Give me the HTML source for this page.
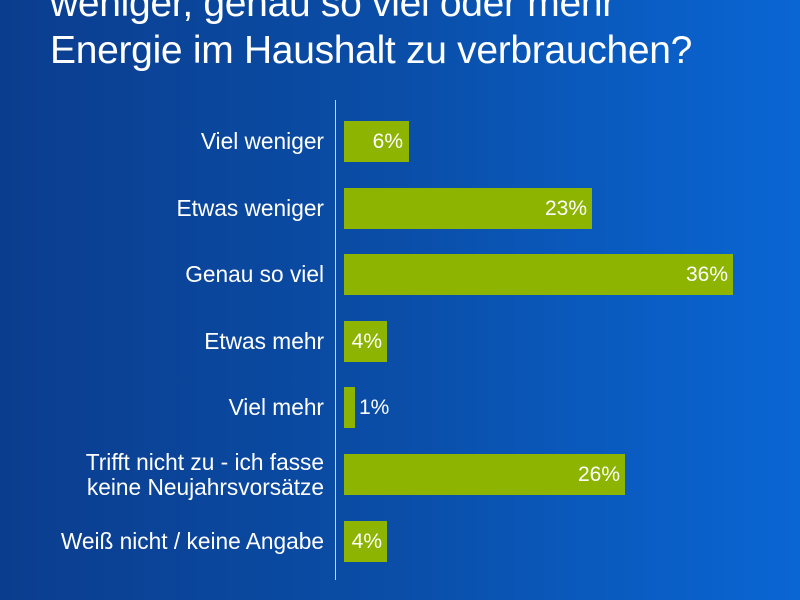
<!DOCTYPE html>
<html><head><meta charset="utf-8"><style>
body{margin:0}
#c{position:relative;width:800px;height:600px;overflow:hidden;background:linear-gradient(90deg,#0b3d8e 0%,#0a4ea8 50%,#0a66d4 100%);font-family:"Liberation Sans",Arial,sans-serif;color:#fff}
.t{position:absolute;left:50px;font-size:39px;white-space:nowrap;letter-spacing:-0.3px}
.ax{position:absolute;left:335px;top:100px;width:1px;height:480px;background:#c8d4e8}
.b{position:absolute;left:344px;height:41px;background:#8cb400}
.v{position:absolute;font-size:21px;text-align:right;line-height:41px}
.l{position:absolute;right:476px;font-size:22.7px;text-align:right;line-height:25px;white-space:nowrap}
</style></head><body><div id="c">
<div class="t" style="top:-18px">weniger, genau so viel oder mehr</div>
<div class="t" style="top:29px">Energie im Haushalt zu verbrauchen?</div>
<div class="ax"></div>

<div class="l" style="top:129px">Viel weniger</div>
<div class="b" style="top:121px;width:65px"></div><div class="v" style="top:121px;left:344px;width:59px">6%</div>

<div class="l" style="top:196px">Etwas weniger</div>
<div class="b" style="top:188px;width:248px"></div><div class="v" style="top:188px;left:344px;width:243px">23%</div>

<div class="l" style="top:262px">Genau so viel</div>
<div class="b" style="top:254px;width:389px"></div><div class="v" style="top:254px;left:344px;width:384px">36%</div>

<div class="l" style="top:329px">Etwas mehr</div>
<div class="b" style="top:321px;width:43px"></div><div class="v" style="top:321px;left:344px;width:38px">4%</div>

<div class="l" style="top:395px">Viel mehr</div>
<div class="b" style="top:387px;width:11px"></div><div class="v" style="top:387px;left:359px;text-align:left">1%</div>

<div class="l" style="top:450px">Trifft nicht zu - ich fasse<br>keine Neujahrsvorsätze</div>
<div class="b" style="top:454px;width:281px"></div><div class="v" style="top:454px;left:344px;width:276px">26%</div>

<div class="l" style="top:529px">Weiß nicht / keine Angabe</div>
<div class="b" style="top:521px;width:43px"></div><div class="v" style="top:521px;left:344px;width:38px">4%</div>
</div></body></html>
